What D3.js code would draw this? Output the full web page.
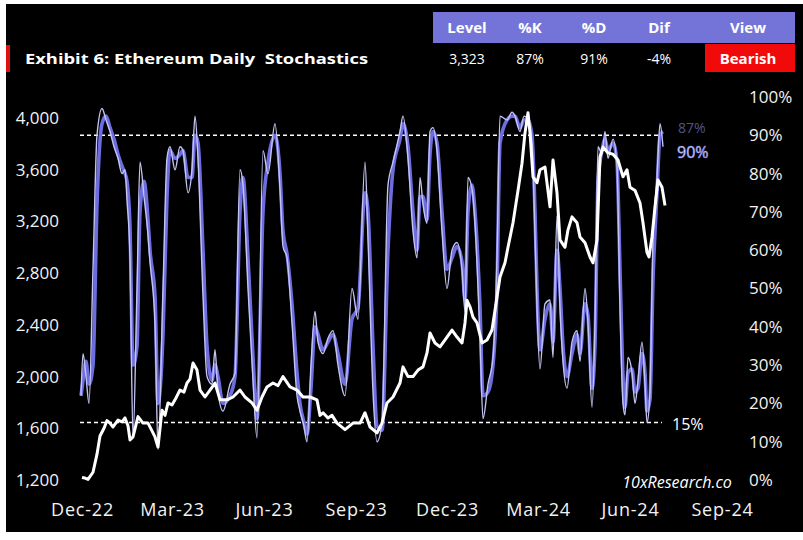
<!DOCTYPE html>
<html>
<head>
<meta charset="utf-8">
<script src="https://cdn.jsdelivr.net/npm/d3@7"></script>
<style>
  html, body { margin: 0; padding: 0; background: #ffffff; }
  svg { display: block; }
  text { font-family: "Open Sans", Lato, "Noto Sans", sans-serif; }
</style>
</head>
<body>
<svg id="chart" width="803" height="540"></svg>
<script>
// ---------------- DATA ----------------
const priceDates = ["2022-12-23","2022-12-26","2022-12-29","2023-01-03","2023-01-07","2023-01-10","2023-01-14","2023-01-17","2023-01-20","2023-01-23","2023-01-28","2023-02-01","2023-02-04","2023-02-07","2023-02-09","2023-02-12","2023-02-17","2023-02-22","2023-02-27","2023-03-03","2023-03-06","2023-03-09","2023-03-13","2023-03-16","2023-03-19","2023-03-23","2023-03-26","2023-03-31","2023-04-04","2023-04-07","2023-04-10","2023-04-13","2023-04-17","2023-04-20","2023-04-25","2023-04-30","2023-05-05","2023-05-10","2023-05-17","2023-05-23","2023-05-30","2023-06-04","2023-06-11","2023-06-16","2023-06-21","2023-06-26","2023-07-02","2023-07-07","2023-07-12","2023-07-19","2023-07-26","2023-08-01","2023-08-08","2023-08-15","2023-08-18","2023-08-21","2023-08-26","2023-08-30","2023-09-04","2023-09-12","2023-09-20","2023-09-27","2023-10-02","2023-10-07","2023-10-14","2023-10-19","2023-10-24","2023-10-30","2023-11-06","2023-11-09","2023-11-14","2023-11-19","2023-11-24","2023-11-29","2023-12-03","2023-12-06","2023-12-11","2023-12-16","2023-12-23","2023-12-28","2024-01-02","2024-01-07","2024-01-10","2024-01-12","2024-01-15","2024-01-18","2024-01-22","2024-01-27","2024-02-01","2024-02-06","2024-02-11","2024-02-14","2024-02-19","2024-02-22","2024-02-27","2024-03-03","2024-03-07","2024-03-10","2024-03-13","2024-03-15","2024-03-18","2024-03-22","2024-03-25","2024-03-30","2024-04-04","2024-04-07","2024-04-11","2024-04-14","2024-04-19","2024-04-22","2024-04-26","2024-05-01","2024-05-04","2024-05-09","2024-05-14","2024-05-17","2024-05-21","2024-05-24","2024-05-27","2024-06-01","2024-06-06","2024-06-11","2024-06-16","2024-06-20","2024-06-23","2024-06-28","2024-07-03","2024-07-06","2024-07-10","2024-07-12","2024-07-15","2024-07-18","2024-07-21","2024-07-25","2024-07-28"];
const priceValues = [1220,1215,1205,1260,1400,1540,1600,1660,1640,1610,1664,1650,1680,1620,1510,1533,1690,1640,1640,1580,1533,1455,1740,1700,1796,1780,1820,1896,1880,1950,1980,2105,2050,1896,1842,1896,1950,1820,1820,1842,1896,1842,1796,1740,1842,1920,1950,1930,2000,1920,1896,1842,1842,1820,1700,1720,1680,1700,1640,1590,1640,1640,1720,1610,1565,1640,1796,1842,1950,2075,2000,2000,2050,2075,2183,2337,2260,2230,2306,2360,2306,2260,2415,2590,2540,2460,2415,2260,2283,2360,2616,2770,2880,3000,3190,3440,3650,3885,4040,3885,3545,3500,3600,3620,3313,3675,3420,3057,3000,3135,3235,3190,3080,3035,2925,2880,3057,3700,3775,3730,3720,3675,3545,3600,3465,3440,3343,3190,2960,2925,3080,3313,3520,3465,3323];

const stochDates = ["2022-12-22","2022-12-24","2022-12-27","2022-12-30","2023-01-03","2023-01-07","2023-01-12","2023-01-16","2023-01-20","2023-01-24","2023-01-28","2023-02-01","2023-02-04","2023-02-06","2023-02-09","2023-02-12","2023-02-16","2023-02-19","2023-02-23","2023-02-27","2023-03-01","2023-03-06","2023-03-09","2023-03-14","2023-03-18","2023-03-21","2023-03-26","2023-03-31","2023-04-03","2023-04-08","2023-04-12","2023-04-15","2023-04-18","2023-04-23","2023-04-27","2023-05-02","2023-05-05","2023-05-08","2023-05-13","2023-05-20","2023-05-25","2023-05-30","2023-06-02","2023-06-07","2023-06-12","2023-06-16","2023-06-22","2023-06-27","2023-07-04","2023-07-09","2023-07-12","2023-07-16","2023-07-21","2023-07-26","2023-07-29","2023-08-02","2023-08-05","2023-08-09","2023-08-13","2023-08-16","2023-08-21","2023-08-26","2023-08-31","2023-09-05","2023-09-12","2023-09-19","2023-09-25","2023-10-02","2023-10-05","2023-10-10","2023-10-14","2023-10-19","2023-10-25","2023-10-30","2023-11-06","2023-11-09","2023-11-14","2023-11-19","2023-11-23","2023-11-26","2023-11-29","2023-12-03","2023-12-06","2023-12-09","2023-12-13","2023-12-18","2023-12-23","2023-12-28","2024-01-02","2024-01-07","2024-01-10","2024-01-13","2024-01-17","2024-01-20","2024-01-25","2024-01-28","2024-02-02","2024-02-07","2024-02-11","2024-02-14","2024-02-21","2024-02-26","2024-02-29","2024-03-05","2024-03-09","2024-03-13","2024-03-17","2024-03-20","2024-03-22","2024-03-25","2024-03-30","2024-04-04","2024-04-07","2024-04-11","2024-04-14","2024-04-17","2024-04-21","2024-04-26","2024-05-01","2024-05-04","2024-05-09","2024-05-12","2024-05-16","2024-05-19","2024-05-22","2024-05-26","2024-05-29","2024-06-01","2024-06-06","2024-06-10","2024-06-13","2024-06-16","2024-06-18","2024-06-21","2024-06-25","2024-06-28","2024-07-01","2024-07-05","2024-07-08","2024-07-10","2024-07-13","2024-07-16","2024-07-20","2024-07-23","2024-07-26"];
// %K (fast stochastic), percent
const kValues = [22,33,27,20,55,90,97,94,91,87,84,80,81,73,58,11,50,83,74,64,57,41,8,50,84,87,81,87,86,75,81,95,84,48,27,25,34,23,18,25,28,81,77,50,26,11,86,80,93,76,61,58,41,22,18,14,10,30,44,36,33,37,39,30,22,50,42,83,63,23,10,15,77,83,91,95,84,65,58,79,72,67,91,92,86,65,50,60,62,55,44,79,76,67,37,16,25,32,58,95,94,96,95,91,95,94,88,64,45,29,46,47,32,69,45,31,24,36,39,31,50,41,19,41,87,85,91,84,89,82,45,20,17,32,28,20,26,36,25,15,23,63,79,93,87];
// %D (slow stochastic), percent
const dValues = [22,26,31,25,30,72,93,95,92,89,85,82,80,78,66,30,35,70,78,68,60,48,20,38,74,86,84,85,86,79,79,90,88,60,35,26,30,27,20,22,27,70,79,58,32,16,70,83,90,80,65,59,46,28,20,15,12,24,40,38,34,36,38,33,25,42,45,75,70,35,14,13,60,81,89,93,87,70,60,74,74,68,85,91,88,70,55,58,61,57,47,70,77,70,45,22,23,30,50,88,94,95,95,92,94,94,90,70,50,34,42,46,36,60,50,35,27,33,38,33,46,43,24,35,78,86,89,86,88,83,55,27,19,28,29,23,24,33,28,18,21,52,75,90,91];

const ninetyLine = 0.90;
const fifteenLine = 0.15;
const leftTicks = [1200,1600,2000,2400,2800,3200,3600,4000];
const rightTicks = [0,0.1,0.2,0.3,0.4,0.5,0.6,0.7,0.8,0.9,1.0];
const xTickDates = ["2022-12-01","2023-03-01","2023-06-01","2023-09-01","2023-12-01","2024-03-01","2024-06-01","2024-09-01"];

const headerLabels = ["Level","%K","%D","Dif","View"];
const headerValues = ["3,323","87%","91%","-4%","Bearish"];
const titleText = "Exhibit 6: Ethereum Daily  Stochastics";

// ---------------- CHART ----------------
const parse = d3.timeParse("%Y-%m-%d");
const svg = d3.select("#chart");

// background (black panel with thin white frame)
svg.append("rect").attr("x",0).attr("y",0).attr("width",803).attr("height",540).attr("fill","#ffffff");
svg.append("rect").attr("x",6).attr("y",4).attr("width",797).attr("height",528).attr("fill","#000000");

const x = d3.scaleTime().domain([parse("2022-12-01"), parse("2024-09-01")]).range([60, 700]);
const yL = d3.scaleLinear().domain([1200, 4000]).range([480, 118]);
const yR = d3.scaleLinear().domain([0, 1]).range([480, 97]);

// axes
const axL = svg.append("g").attr("transform","translate(59,0)")
  .call(d3.axisLeft(yL).tickValues(leftTicks).tickFormat(d3.format(",")).tickSize(0).tickPadding(0));
const axR = svg.append("g").attr("transform","translate(749,0)")
  .call(d3.axisRight(yR).tickValues(rightTicks).tickFormat(d3.format(".0%")).tickSize(0).tickPadding(0));
const axB = svg.append("g").attr("transform","translate(0,503)")
  .call(d3.axisBottom(x).tickValues(xTickDates.map(parse)).tickFormat(d3.timeFormat("%b-%y")).tickSize(0).tickPadding(0));
[axL, axR, axB].forEach(a => {
  a.select(".domain").remove();
  a.selectAll("text").attr("fill","#f2f2f2").style("font-size","17px");
});
axB.selectAll("text").attr("dx", 22).style("font-size","18px").style("letter-spacing","0.8px");

// reference lines
[ninetyLine, fifteenLine].forEach(v => {
  svg.append("line")
    .attr("x1", 80).attr("x2", 662)
    .attr("y1", yR(v)).attr("y2", yR(v))
    .attr("stroke","#ffffff").attr("stroke-width",1.4).attr("stroke-dasharray","4,3");
});

// stochastics
const stoch = stochDates.map((d,i) => ({date: parse(d), k: kValues[i]/100, d: dValues[i]/100}));
const lineD = d3.line().x(p => x(p.date)).y(p => yR(p.d)).curve(d3.curveMonotoneX);
const lineK = d3.line().x(p => x(p.date)).y(p => yR(p.k)).curve(d3.curveMonotoneX);
svg.append("path").datum(stoch).attr("d", lineD)
  .attr("fill","none").attr("stroke","#6d6de0").attr("stroke-width",3.6).attr("stroke-linejoin","round");
svg.append("path").datum(stoch).attr("d", lineK)
  .attr("fill","none").attr("stroke","#c4c4f4").attr("stroke-width",1.4).attr("stroke-linejoin","round");

// price
const price = priceDates.map((d,i) => ({date: parse(d), v: priceValues[i]}));
svg.append("path").datum(price)
  .attr("d", d3.line().x(p => x(p.date)).y(p => yL(p.v)))
  .attr("fill","none").attr("stroke","#ffffff").attr("stroke-width",3).attr("stroke-linejoin","round");

// end labels
const lastK = stoch[stoch.length-1];
svg.append("text").attr("x", 678).attr("y", 128).attr("dy","0.35em")
  .attr("fill","#8a8ad8").attr("opacity",0.6).style("font-size","14px").text(d3.format(".0%")(lastK.k));
svg.append("text").attr("x", 677).attr("y", yR(ninetyLine)+17).attr("dy","0.35em")
  .attr("fill","#ffffff").attr("stroke","#7a7ae0").attr("stroke-width",0.6).style("font-size","16px")
  .text(d3.format(".0%")(ninetyLine));
svg.append("text").attr("x", 672).attr("y", yR(fifteenLine)+2).attr("dy","0.35em")
  .attr("fill","#ffffff").style("font-size","16px").text(d3.format(".0%")(fifteenLine));

// watermark
svg.append("text").attr("x", 677).attr("y", 488).attr("text-anchor","middle")
  .attr("fill","#ffffff").style("font-size","16px").style("font-style","italic")
  .text("10xResearch.co");

// title block
svg.append("rect").attr("x",6).attr("y",45).attr("width",4).attr("height",27).attr("fill","#e01010");
svg.append("text").attr("x",25).attr("y",64).attr("fill","#ffffff")
  .style("font-size","15px").style("font-weight","bold").style("white-space","pre")
  .attr("textLength",343).attr("lengthAdjust","spacingAndGlyphs").text(titleText);

// header table
const colX = [467, 530, 594, 659, 748];
svg.append("rect").attr("x",433).attr("y",12).attr("width",362).attr("height",31).attr("fill","#7474d8");
svg.append("rect").attr("x",705).attr("y",44).attr("width",90).attr("height",28).attr("fill","#f00a0a");
headerLabels.forEach((t,i) => {
  svg.append("text").attr("x",colX[i]).attr("y",33).attr("text-anchor","middle")
    .attr("fill","#ffffff").style("font-size","15px").style("font-weight","bold").text(t);
});
headerValues.forEach((t,i) => {
  svg.append("text").attr("x",colX[i]).attr("y",64).attr("text-anchor","middle")
    .attr("fill","#ffffff")
    .style("font-weight", i === 4 ? "bold" : "normal")
    .style("font-size", i === 4 ? "15px" : "14px")
    .text(t);
});
</script>
</body>
</html>
